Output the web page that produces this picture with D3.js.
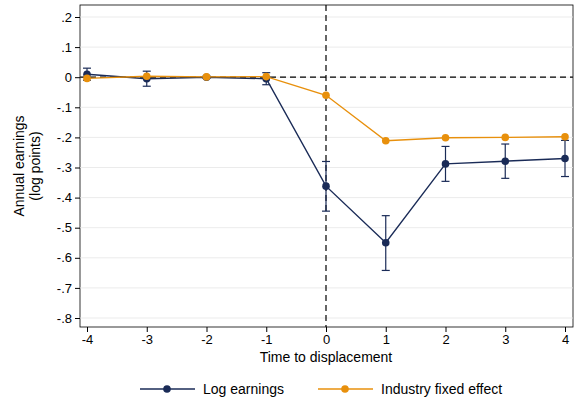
<!DOCTYPE html>
<html><head><meta charset="utf-8">
<script src="https://cdn.jsdelivr.net/npm/d3@7"></script>
<style>body{margin:0;background:#fff}text{font-family:Arial,"Liberation Sans",sans-serif}</style>
</head><body><svg id="c" width="580" height="403"></svg>
<script>
var periods = [-4, -3, -2, -1, 0, 1, 2, 3, 4];
var logEarn = [0.01, -0.005, 0, -0.005, -0.362, -0.55, -0.288, -0.279, -0.27];
var logLo = [-0.01, -0.03, -0.004, -0.025, -0.445, -0.642, -0.346, -0.336, -0.33];
var logHi = [0.03, 0.02, 0.004, 0.015, -0.28, -0.46, -0.23, -0.222, -0.21];
var indFE = [-0.004, 0.003, 0.001, 0.002, -0.06, -0.211, -0.201, -0.2, -0.198];
var yTicks = [0.2, 0.1, 0, -0.1, -0.2, -0.3, -0.4, -0.5, -0.6, -0.7, -0.8];

var navy = "#1a2b57", orange = "#e8900c";
var svg = d3.select("#c");
var x = d3.scaleLinear().domain([-4, 4]).range([87, 565]);
var y = d3.scaleLinear().domain([0.2, -0.8]).range([17, 318]);
var L = 80, R = 573, T = 5, B = 327;

svg.append("rect").attr("x", L).attr("y", T).attr("width", R - L).attr("height", B - T)
  .attr("fill", "none").attr("stroke", "#000").attr("stroke-width", 0.8);
svg.selectAll(".g").data(yTicks).enter().append("line")
  .attr("x1", L).attr("x2", R).attr("y1", function(d) { return y(d); }).attr("y2", function(d) { return y(d); })
  .attr("stroke", "#e6e6e6").attr("stroke-width", 0.8);

var fmt = function(d) { return d === 0 ? "0" : d.toFixed(1).replace("0.", "."); };
svg.append("g").attr("transform", "translate(" + L + ",0)")
  .call(d3.axisLeft(y).tickValues(yTicks).tickFormat(fmt).tickSize(5).tickSizeOuter(0))
  .call(function(g) { g.select(".domain").remove(); g.selectAll("text").attr("font-size", 13); });
svg.append("g").attr("transform", "translate(0," + B + ")")
  .call(d3.axisBottom(x).tickValues(periods).tickFormat(function(d) { return String(d); }).tickSize(5).tickSizeOuter(0))
  .call(function(g) { g.select(".domain").remove(); g.selectAll("text").attr("font-size", 13); });

svg.append("line").attr("x1", L).attr("x2", R).attr("y1", y(0)).attr("y2", y(0))
  .attr("stroke", "#000").attr("stroke-dasharray", "6,4").attr("stroke-width", 1.2);
svg.append("line").attr("x1", x(0)).attr("x2", x(0)).attr("y1", T).attr("y2", B)
  .attr("stroke", "#000").attr("stroke-dasharray", "6,4").attr("stroke-width", 1.2);

// CIs
periods.forEach(function(p, i) {
  var g = svg.append("g").attr("stroke", navy).attr("stroke-width", 1.2);
  g.append("line").attr("x1", x(p)).attr("x2", x(p)).attr("y1", y(logLo[i])).attr("y2", y(logHi[i]));
  [logLo[i], logHi[i]].forEach(function(v) {
    g.append("line").attr("x1", x(p) - 4).attr("x2", x(p) + 4).attr("y1", y(v)).attr("y2", y(v));
  });
});

function series(vals, col) {
  var line = d3.line().x(function(d, i) { return x(periods[i]); }).y(function(d) { return y(d); });
  svg.append("path").datum(vals).attr("d", line).attr("fill", "none").attr("stroke", col).attr("stroke-width", 1.4);
  svg.selectAll(null).data(vals).enter().append("circle")
    .attr("cx", function(d, i) { return x(periods[i]); }).attr("cy", function(d) { return y(d); })
    .attr("r", 3.8).attr("fill", col);
}
series(logEarn, navy);
series(indFE, orange);

svg.append("text").attr("x", 326).attr("y", 362).attr("text-anchor", "middle").attr("font-size", 14).text("Time to displacement");
var yl = svg.append("text").attr("transform", "translate(24,166) rotate(-90)").attr("text-anchor", "middle").attr("font-size", 14);
yl.append("tspan").attr("x", 0).attr("dy", 0).text("Annual earnings");
yl.append("tspan").attr("x", 0).attr("dy", 16).text("(log points)");

var leg = [["Log earnings", navy, 140], ["Industry fixed effect", orange, 318]];
leg.forEach(function(l) {
  svg.append("line").attr("x1", l[2]).attr("x2", l[2] + 55).attr("y1", 389).attr("y2", 389).attr("stroke", l[1]).attr("stroke-width", 1.4);
  svg.append("circle").attr("cx", l[2] + 27).attr("cy", 389).attr("r", 3.8).attr("fill", l[1]);
  svg.append("text").attr("x", l[2] + 63).attr("y", 394).attr("font-size", 14).text(l[0]);
});
</script></body></html>
